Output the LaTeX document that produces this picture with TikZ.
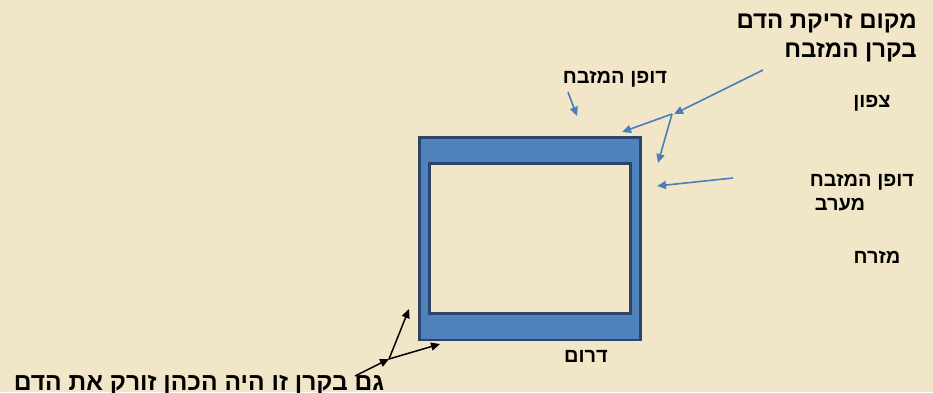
\documentclass[tikz,border=0pt]{standalone}
\usepackage{fontspec}
\usetikzlibrary{arrows.meta}
\TeXXeTstate=1
\newfontfamily\hebfont[Script=Hebrew]{Liberation Sans}
\definecolor{bg}{HTML}{F2E6C8}
\definecolor{altar}{HTML}{4F81BD}
\definecolor{altaredge}{HTML}{2B4468}
\definecolor{arrowblue}{HTML}{4A7EBB}
\begin{document}
\begin{tikzpicture}[x=1pt,y=-1pt,
  bigtext/.style={font=\hebfont\bfseries\fontsize{24}{28}\selectfont, inner sep=0pt, text=black},
  bottomtext/.style={font=\hebfont\bfseries\fontsize{24.6}{28}\selectfont, inner sep=0pt, text=black},
  smalltext/.style={font=\hebfont\bfseries\fontsize{20}{24}\selectfont, inner sep=0pt, text=black},
  bluearrow/.style={draw=arrowblue, line width=1.6pt, -{Triangle[length=9pt,width=8pt]}},
  blackarrow/.style={draw=black, line width=1.5pt, -{Triangle[length=9pt,width=8pt]}},
  altarouter/.style={draw=altaredge, fill=altar, line width=2.5pt},
  altarinner/.style={draw=altaredge, fill=bg, line width=3pt}]
\fill[bg] (0,0) rectangle (933,392);
\useasboundingbox (0,0) rectangle (933,392);

% altar
\draw[altarouter] (419.5,137.5) rectangle (640.5,340);
\draw[altarinner] (429.5,163) rectangle (630.5,313.5);

% labels
\node[bigtext, anchor=east] (t1) at (917,23) {\beginR מקום זריקת הדם\endR};
\node[bigtext, anchor=east] (t2) at (917,52) {\beginR בקרן המזבח\endR};
\node[smalltext] (north) at (872,103) {\beginR צפון\endR};
\node[smalltext] (walltop) at (615,79) {\beginR דופן המזבח\endR};
\node[smalltext] (wallright) at (862,182) {\beginR דופן המזבח\endR};
\node[smalltext] (west) at (840,205) {\beginR מערב\endR};
\node[smalltext] (east) at (877,257) {\beginR מזרח\endR};
\node[smalltext] (south) at (586,356) {\beginR דרום\endR};
\node[bottomtext] (bottom) at (199,385) {\beginR גם בקרן זו היה הכהן זורק את הדם\endR};

% coordinates
\coordinate (a1s) at (568,92);
\coordinate (a1e) at (577,116);
\coordinate (a2s) at (763,70);
\coordinate (a2e) at (674,114);
\coordinate (j) at (672,114);
\coordinate (a3e) at (622,132);
\coordinate (a4e) at (658,163);
\coordinate (a5s) at (733,178);
\coordinate (a5e) at (657,186);
\coordinate (bs) at (355,376);
\coordinate (bj) at (389,359);
\coordinate (b1e) at (409,309);
\coordinate (b2e) at (440,344);

% arrows
\draw[bluearrow] (a1s) -- (a1e);
\draw[bluearrow] (a2s) -- (a2e);
\draw[bluearrow] (j) -- (a3e);
\draw[bluearrow] (j) -- (a4e);
\draw[bluearrow] (a5s) -- (a5e);
\draw[blackarrow] (bs) -- (bj);
\draw[blackarrow] (bj) -- (b1e);
\draw[blackarrow] (bj) -- (b2e);
\end{tikzpicture}
\end{document}
